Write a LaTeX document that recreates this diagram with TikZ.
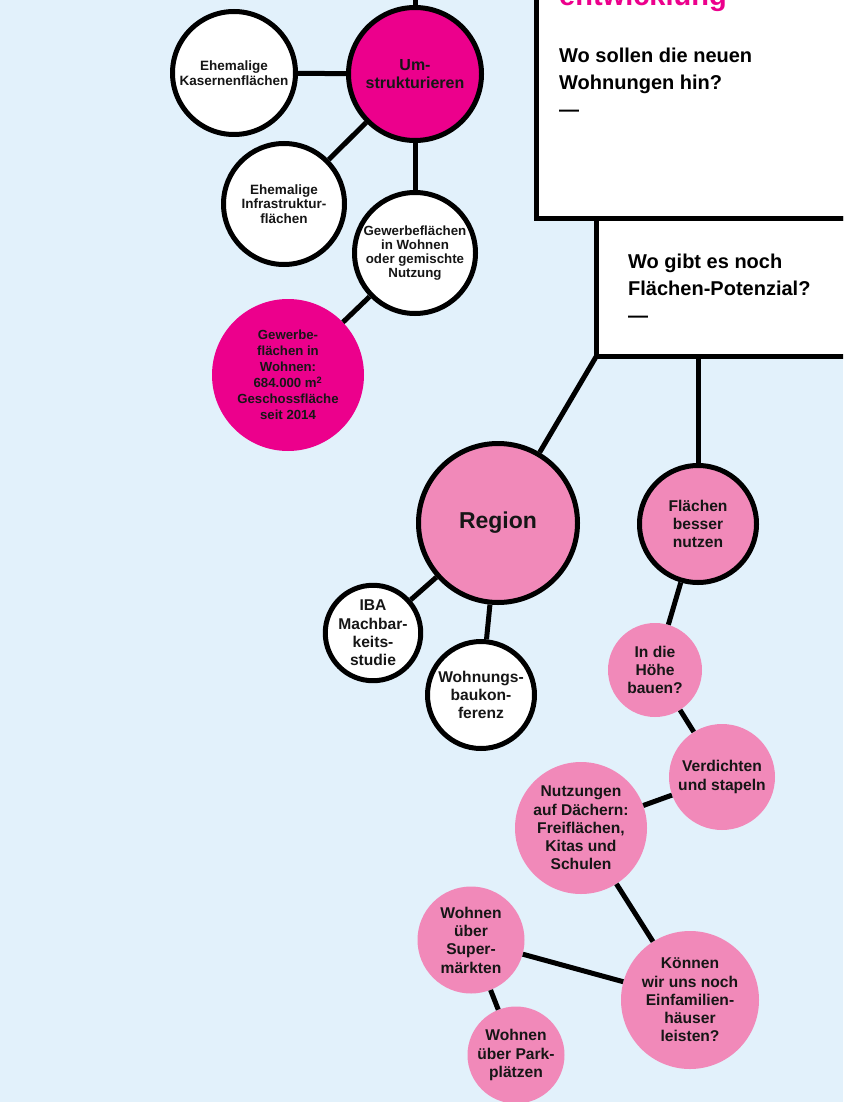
\documentclass[tikz,border=0pt]{standalone}
\usepackage{fontspec}
\setmainfont{Liberation Sans}
\definecolor{hgblau}{HTML}{E2F1FB}
\definecolor{rosa}{HTML}{F189B9}
\definecolor{tmagenta}{HTML}{EC008C}
\definecolor{schrift}{HTML}{161616}
\tikzset{
  linie/.style={line width=5pt},
  blase/.style={circle,inner sep=0pt,align=center,text=schrift},
  rand/.style={draw=black,line width=5pt},
  klein/.style={font=\fontsize{13.5}{14.5}\selectfont\bfseries},
  mittel/.style={font=\fontsize{15.6}{18.3}\selectfont\bfseries},
  kasten/.style={rectangle,draw=black,line width=5pt,fill=white,inner sep=0pt,outer sep=0pt,anchor=south west,minimum width=400pt},
  frage/.style={anchor=base west,align=left,inner sep=0pt,font=\fontsize{20}{27}\selectfont\bfseries}
}
\begin{document}
\begin{tikzpicture}[x=1pt,y=-1pt]
\clip(0,0)rectangle(843,1102);
\fill[hgblau](0,0)rectangle(843,1102);
% Fragekaesten
\node[kasten,minimum height=300pt](kasten1) at (536.5,218){};
\node[kasten,minimum height=138pt](kasten2) at (596.5,356){};
\node[anchor=base west,inner sep=0pt,text=tmagenta,font=\fontsize{29}{30}\selectfont\bfseries](titel) at (559,6){entwicklung};
\node[frage](frage1) at (559,117){Wo sollen die neuen\\Wohnungen hin?\\—};
\node[frage](frage2) at (628,322){Wo gibt es noch\\Flächen-Potenzial?\\—};
% Blasen
\node[blase,rand,fill=white,klein,minimum size=123pt](kaserne) at (234,73){Ehemalige\\Kasernenflächen};
\node[blase,rand,fill=tmagenta,font=\fontsize{16}{18}\selectfont\bfseries,minimum size=133pt](umbau) at (415,74){Um-\\strukturieren};
\node[blase,rand,fill=white,klein,minimum size=121pt](infra) at (284,204){Ehemalige\\Infrastruktur-\\flächen};
\node[blase,rand,fill=white,font=\fontsize{13.3}{14}\selectfont\bfseries,minimum size=121pt](gewerbe) at (415,253){Gewerbeflächen\\in Wohnen\\oder gemischte\\Nutzung};
\node[blase,fill=tmagenta,font=\fontsize{13.2}{16}\selectfont\bfseries,minimum size=152pt](zahl) at (288,375){Gewerbe-\\flächen in\\Wohnen:\\684.000 m\textsuperscript{2}\\Geschossfläche\\seit 2014};
\node[blase,rand,fill=rosa,font=\fontsize{23}{26}\selectfont\bfseries,minimum size=159pt](region) at (498,523){Region};
\node[blase,rand,fill=white,mittel,minimum size=95pt](iba) at (373,633){IBA\\Machbar-\\keits-\\studie};
\node[blase,rand,fill=white,mittel,minimum size=107pt](konferenz) at (481,695){Wohnungs-\\baukon-\\ferenz};
\node[blase,rand,fill=rosa,mittel,minimum size=117pt](flaechen) at (698,524){Flächen\\besser\\nutzen};
\node[blase,fill=rosa,mittel,minimum size=94pt](hoehe) at (655,670){In die\\Höhe\\bauen?};
\node[blase,fill=rosa,mittel,minimum size=106pt](verdichten) at (722,777){Verdichten\\und stapeln};
\node[blase,fill=rosa,mittel,minimum size=132pt](daecher) at (581,828){Nutzungen\\auf Dächern:\\Freiflächen,\\Kitas und\\Schulen};
\node[blase,fill=rosa,mittel,minimum size=138pt](einfamilie) at (690,1000){Können\\wir uns noch\\Einfamilien-\\häuser\\leisten?};
\node[blase,fill=rosa,mittel,minimum size=107pt](supermarkt) at (471,940){Wohnen\\über\\Super-\\märkten};
\node[blase,fill=rosa,mittel,minimum size=97pt](parkplatz) at (516,1055){Wohnen\\über Park-\\plätzen};
\coordinate(oben) at (415,-10);
% Verbindungen
\draw[linie](umbau)--(oben);
\draw[linie](kaserne)--(umbau);
\draw[linie](umbau)--(infra);
\draw[linie](umbau)--(gewerbe);
\draw[linie](gewerbe)--(zahl);
\draw[linie](kasten2.south west)--(region);
\draw[linie](flaechen)--(flaechen|-kasten2.south);
\draw[linie](region)--(iba);
\draw[linie](region)--(konferenz);
\draw[linie](flaechen)--(hoehe);
\draw[linie](hoehe)--(verdichten);
\draw[linie](verdichten)--(daecher);
\draw[linie](daecher)--(einfamilie);
\draw[linie](einfamilie)--(supermarkt);
\draw[linie](supermarkt)--(parkplatz);
\end{tikzpicture}
\end{document}
